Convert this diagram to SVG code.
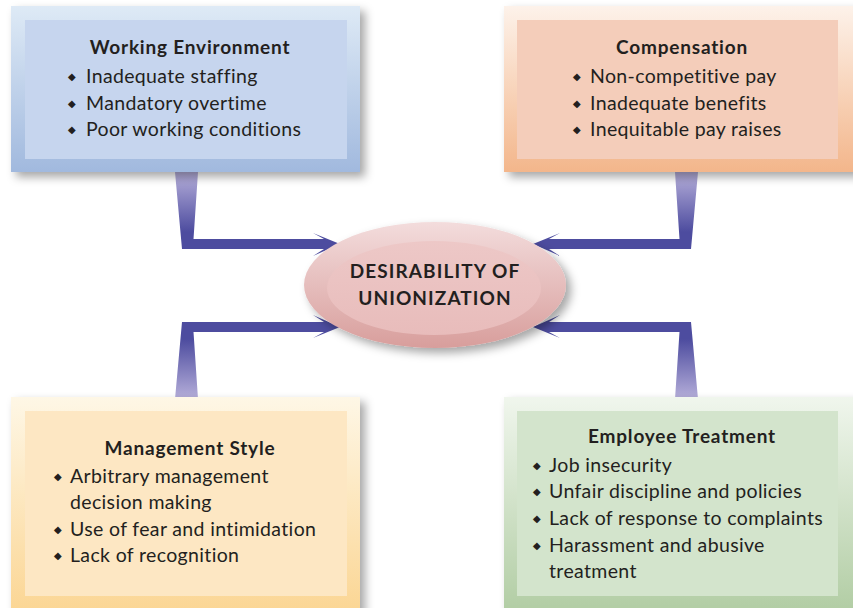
<svg xmlns="http://www.w3.org/2000/svg" xmlns:xlink="http://www.w3.org/1999/xlink" width="853" height="608" viewBox="0 0 853 608">
<style>
.title{font-family:Lato,"Open Sans","Liberation Sans",sans-serif;font-weight:bold;font-size:19px;letter-spacing:0.8px;fill:#231f20;text-anchor:middle}
.item{font-family:Lato,"Open Sans","Liberation Sans",sans-serif;font-size:19.5px;letter-spacing:0.35px;fill:#231f20}
.bul{font-family:"DejaVu Sans",sans-serif;font-size:10px;fill:#231f20}
.center{font-family:Lato,"Open Sans","Liberation Sans",sans-serif;font-weight:bold;font-size:19px;letter-spacing:1.1px;fill:#231f20;text-anchor:middle}
</style>
<defs>
<filter id="sh" x="-10%" y="-10%" width="130%" height="130%">
<feDropShadow dx="5" dy="5" stdDeviation="5" flood-color="#000" flood-opacity="0.35"/>
</filter>
<linearGradient id="gBlue" x1="0" y1="0" x2="0" y2="1"><stop offset="0" stop-color="#deeaf6"/><stop offset="1" stop-color="#a1b9de"/></linearGradient>
<linearGradient id="gOrange" x1="0" y1="0" x2="0" y2="1"><stop offset="0" stop-color="#fdf2ea"/><stop offset="1" stop-color="#f3b68b"/></linearGradient>
<linearGradient id="gYellow" x1="0" y1="0" x2="0" y2="1"><stop offset="0" stop-color="#fef7e6"/><stop offset="1" stop-color="#fbd592"/></linearGradient>
<linearGradient id="gGreen" x1="0" y1="0" x2="0" y2="1"><stop offset="0" stop-color="#f0f6ed"/><stop offset="1" stop-color="#b0cca2"/></linearGradient>
<linearGradient id="gEll" x1="0" y1="0" x2="0" y2="1"><stop offset="0" stop-color="#f3dcdc"/><stop offset="1" stop-color="#d89e9c"/></linearGradient>
<linearGradient id="gEllIn" x1="0" y1="0" x2="0" y2="1"><stop offset="0" stop-color="#edc8c7"/><stop offset="1" stop-color="#e8bcbb"/></linearGradient>
<linearGradient id="gArrow" gradientUnits="userSpaceOnUse" x1="0" y1="172" x2="0" y2="232"><stop offset="0" stop-color="#b6afda"/><stop offset="1" stop-color="#4d4c9f"/></linearGradient>
<path id="conn" d="M175,172 L182,249 L324,249 L313,256 L340,244 L313,233 L324,239 L193.5,239 L198,172 Z" fill="url(#gArrow)"/>
</defs>
<rect width="853" height="608" fill="#ffffff"/>

<g id="connectors">
<use xlink:href="#conn"/>
<use xlink:href="#conn" transform="translate(873,0) scale(-1,1)"/>
<use xlink:href="#conn" transform="translate(0,571) scale(1,-1)"/>
<use xlink:href="#conn" transform="translate(873,571) scale(-1,-1)"/>
</g>

<g id="working-environment">
<rect x="11" y="6" width="349" height="166" fill="url(#gBlue)" filter="url(#sh)"/>
<rect x="25" y="20" width="322" height="139" fill="#c6d5ee"/>
<text class="title" x="190" y="54">Working Environment</text>
<text class="bul" x="68" y="80">◆</text><text class="item" x="86" y="83">Inadequate staffing</text>
<text class="bul" x="68" y="107">◆</text><text class="item" x="86" y="110">Mandatory overtime</text>
<text class="bul" x="68" y="133">◆</text><text class="item" x="86" y="136">Poor working conditions</text>
</g>

<g id="compensation">
<rect x="504" y="6" width="360" height="166" fill="url(#gOrange)" filter="url(#sh)"/>
<rect x="517" y="20" width="321" height="139" fill="#f4cdba"/>
<text class="title" x="682" y="54">Compensation</text>
<text class="bul" x="573" y="80">◆</text><text class="item" x="590" y="83">Non-competitive pay</text>
<text class="bul" x="573" y="107">◆</text><text class="item" x="590" y="110">Inadequate benefits</text>
<text class="bul" x="573" y="133">◆</text><text class="item" x="590" y="136">Inequitable pay raises</text>
</g>

<g id="management-style">
<rect x="11" y="397" width="349" height="220" fill="url(#gYellow)" filter="url(#sh)"/>
<rect x="25" y="411" width="322" height="185" fill="#fde7c3"/>
<text class="title" x="190" y="455">Management Style</text>
<text class="bul" x="54" y="480">◆</text><text class="item" x="70" y="483">Arbitrary management</text>
<text class="item" x="70" y="509">decision making</text>
<text class="bul" x="54" y="533">◆</text><text class="item" x="70" y="536">Use of fear and intimidation</text>
<text class="bul" x="54" y="559">◆</text><text class="item" x="70" y="562">Lack of recognition</text>
</g>

<g id="employee-treatment">
<rect x="504" y="397" width="360" height="220" fill="url(#gGreen)" filter="url(#sh)"/>
<rect x="517" y="411" width="321" height="185" fill="#d3e4cc"/>
<text class="title" x="682" y="443">Employee Treatment</text>
<text class="bul" x="533" y="469">◆</text><text class="item" x="549" y="472">Job insecurity</text>
<text class="bul" x="533" y="495">◆</text><text class="item" x="549" y="498">Unfair discipline and policies</text>
<text class="bul" x="533" y="522">◆</text><text class="item" x="549" y="525">Lack of response to complaints</text>
<text class="bul" x="533" y="549">◆</text><text class="item" x="549" y="552">Harassment and abusive</text>
<text class="item" x="549" y="578">treatment</text>
</g>

<g id="desirability">
<ellipse cx="435" cy="285" rx="131" ry="63" fill="url(#gEll)" filter="url(#sh)"/>
<ellipse cx="434" cy="288" rx="107" ry="47" fill="url(#gEllIn)"/>
<text class="center" x="435" y="278">DESIRABILITY OF</text>
<text class="center" x="435" y="305">UNIONIZATION</text>
</g>
</svg>
